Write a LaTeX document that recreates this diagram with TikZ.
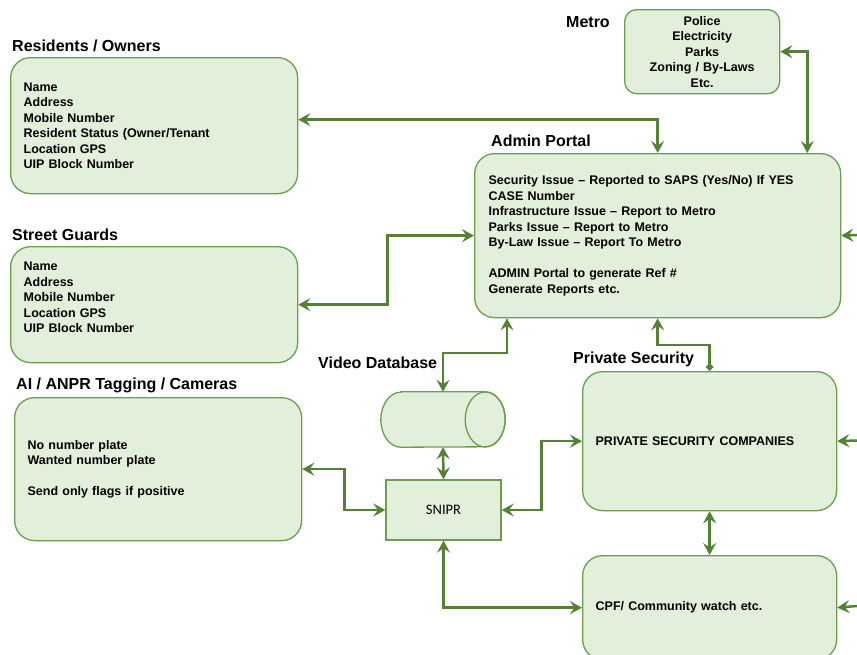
\documentclass[tikz,border=0pt]{standalone}
\usepackage{fontspec}
\setmainfont{Liberation Sans}
\newfontfamily\snfont{Carlito}
\usetikzlibrary{arrows.meta,positioning}

\definecolor{boxfill}{HTML}{E2EFDA}
\definecolor{boxline}{HTML}{6D9E50}
\definecolor{linkgreen}{HTML}{538135}

\tikzset{gtip/.tip={Stealth[length=12pt,width=13pt,inset=4.5pt]}}

\begin{document}
\begin{tikzpicture}%
  [x=1pt, y=-1pt,
   panel/.style={draw=boxline, fill=boxfill, line width=1.3pt, rounded corners=20pt,
                 anchor=north west, align=left, inner xsep=13pt, inner ysep=0pt,
                 font=\bfseries\fontsize{12.5}{15.5}\selectfont},
   heading/.style={anchor=west, inner sep=0pt, font=\bfseries\fontsize{16}{18}\selectfont},
   link/.style={draw=linkgreen, line width=2.5pt, gtip-gtip}
  ]
\useasboundingbox (0,0) rectangle (857,654);
\clip (0,0) rectangle (857,654);

% boxes
\node[panel, text width=261pt, minimum height=136pt] (residents) at (10,57)
  {Name\\Address\\Mobile Number\\Resident Status (Owner/Tenant\\Location GPS\\UIP Block Number};
\node[panel, text width=261pt, minimum height=116pt] (guards) at (10,246)
  {Name\\Address\\Mobile Number\\Location GPS\\UIP Block Number\\[-1pt]\mbox{}};
\node[panel, text width=261pt, minimum height=143pt] (cams) at (14,397)
  {No number plate\\Wanted number plate\\[15.5pt]Send only flags if positive};
\node[panel, text width=338pt, inner xsep=14pt, minimum height=164pt] (admin) at (474,153)
  {Security Issue -- Reported to SAPS (Yes/No) If YES\\CASE Number\\Infrastructure Issue -- Report to Metro\\
   Parks Issue -- Report to Metro\\By-Law Issue -- Report To Metro\\[15.5pt]ADMIN Portal to generate Ref \#\\Generate Reports etc.};
\node[panel, align=center, text width=129pt, minimum height=84pt, rounded corners=12pt] (metro) at (624,9)
  {Police\\Electricity\\Parks\\Zoning / By-Laws\\Etc.};
\node[panel, text width=228pt, minimum height=139pt] (privsec) at (582,371)
  {PRIVATE SECURITY COMPANIES};
\node[panel, text width=228pt, minimum height=104pt] (cpf) at (582,555)
  {CPF/ Community watch etc.};
\node[draw=boxline, fill=boxfill, line width=1.3pt, minimum width=115pt, minimum height=60pt,
      font=\snfont\fontsize{14.5}{16}\selectfont] (snipr) at (443.5,510) {SNIPR};

% video database drum
\node[minimum width=124pt, minimum height=55pt, inner sep=0pt] (viddb) at (443,419.5) {};
\draw[draw=boxline, fill=boxfill, line width=1.3pt]
  ([xshift=20pt]viddb.north west) -- ([xshift=-20pt]viddb.north east)
  arc[start angle=90, end angle=-90, x radius=20pt, y radius=27.5pt]
  -- ([xshift=20pt]viddb.south west)
  arc[start angle=270, end angle=90, x radius=20pt, y radius=27.5pt] -- cycle;
\draw[draw=boxline, line width=1.3pt]
  ([xshift=-20pt]viddb.east) ellipse[x radius=20pt, y radius=27.5pt];

% headings
\node[heading] (residentsT) at (12,46)  {Residents / Owners};
\node[heading] (guardsT)    at (12,235) {Street Guards};
\node[heading] (camsT)      at (16,385) {AI / ANPR Tagging / Cameras};
\node[heading] (metroT)     at (566,22) {Metro};
\node[heading] (adminT)     at (491,141) {Admin Portal};
\node[heading] (viddbT)     at (318,363) {Video Database};
\node[heading] (privsecT)   at (573,359) {Private Security};

% free ends on the right
\coordinate (adminIn)   at (857,235);
\coordinate (privsecIn) at (857,440.5);
\coordinate (cpfIn)     at (857,606);

% connectors
\path[link]
   ([yshift=6pt]residents.east) -| (admin.north);
\path[link]
   (metro.east) -| ([xshift=-34pt]admin.north east);
\path[link]
   (guards.east) -- ++(89,0) |- (admin.west);
\path[link]
   (viddb.north) -- ++(0,-39) -| ([xshift=33pt]admin.south west);
\path[link, {Diamond[length=8pt,width=8pt]}-gtip]
   (privsec.north) -- ++(0,-26) -| (admin.south);
\path[link]
   (viddb.south) -- (snipr.north);
\path[link]
   (cams.east) -- ++(42,0) |- (snipr.west);
\path[link]
   (snipr.east) -- ++(40,0) |- (privsec.west);
\path[link]
   (snipr.south) |- (cpf.west);
\path[link]
   (privsec.south) -- (cpf.north);
\path[link, -gtip] (adminIn) -- (admin.east);
\path[link, -gtip] (privsecIn) -- (privsec.east);
\path[link, -gtip] (cpfIn) -- (cpf.east);
\end{tikzpicture}
\end{document}
